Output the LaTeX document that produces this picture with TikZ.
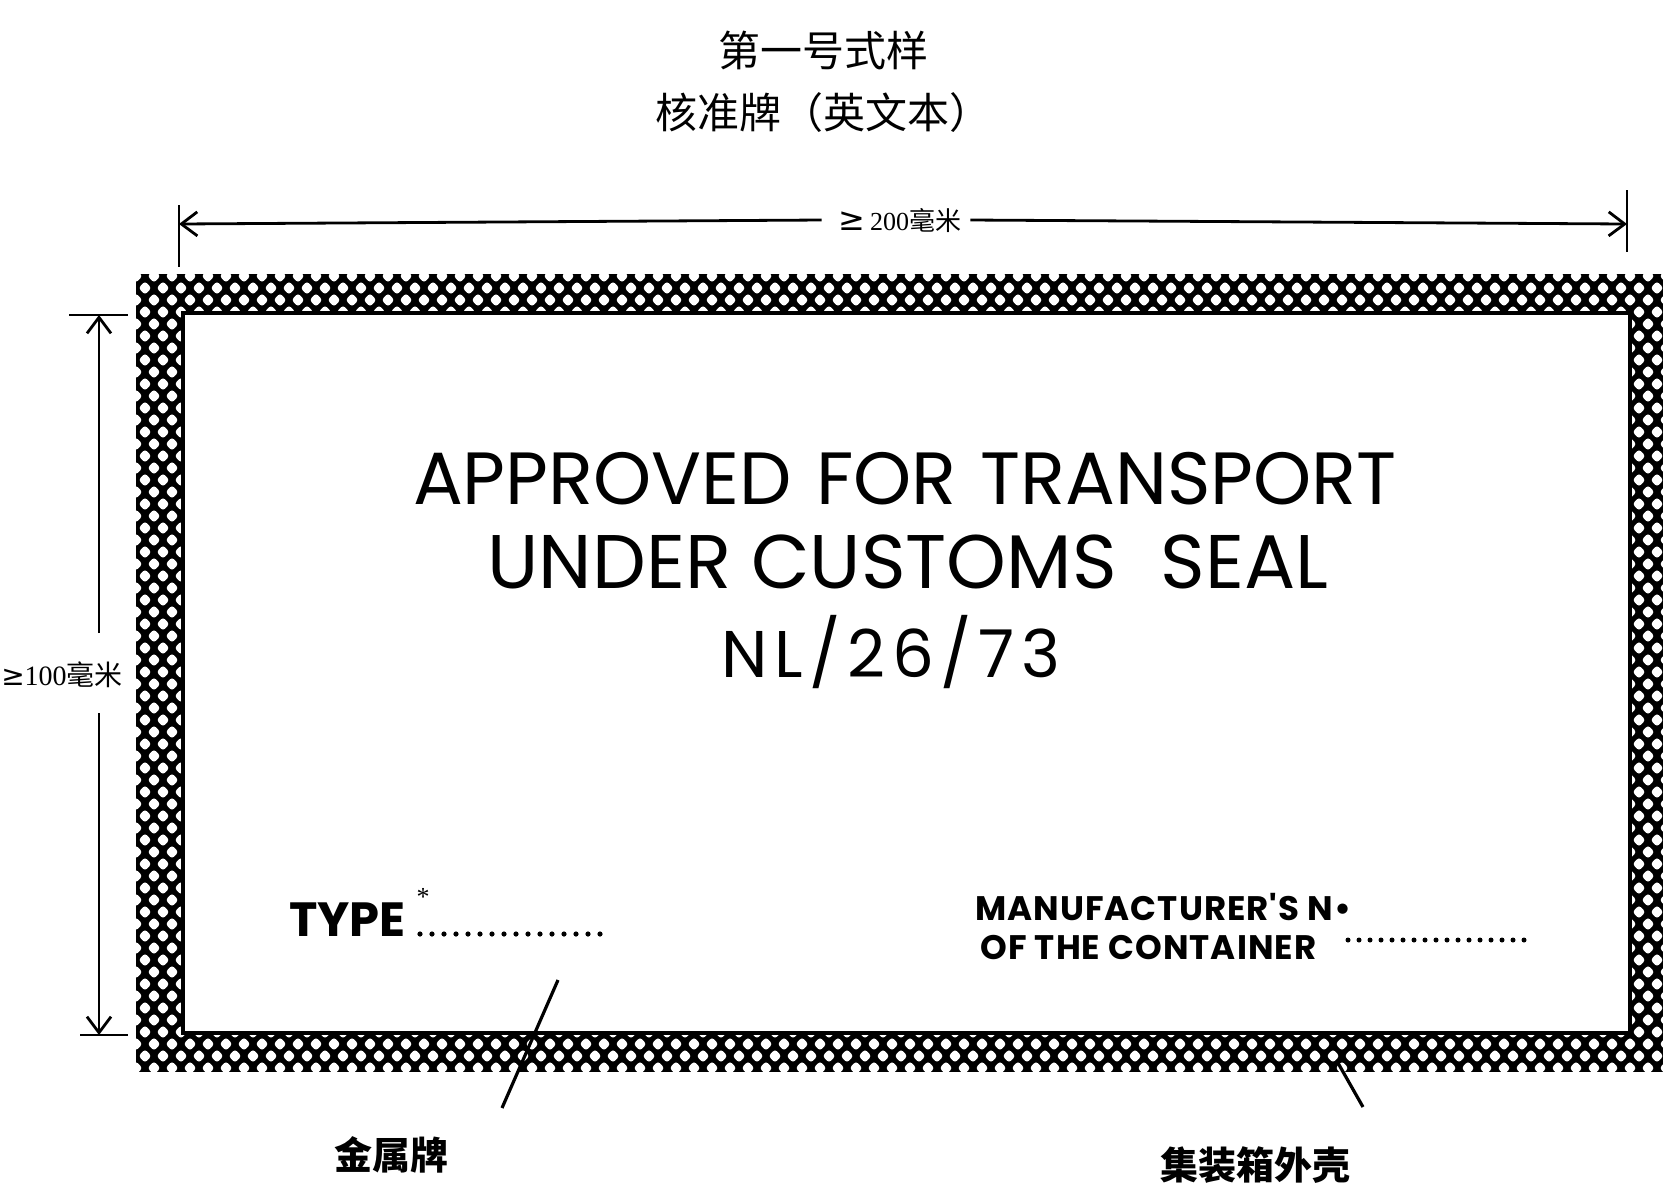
\documentclass[tikz,border=0pt]{standalone}
\usepackage{fontspec}
\usetikzlibrary{arrows.meta}
\newfontfamily\cjk{Noto Sans CJK SC}
\newfontfamily\letrero{Poppins}
\newfontfamily\cifras{Liberation Serif}
\newfontfamily\simbolo{DejaVu Sans}
\begin{document}
\begin{tikzpicture}[x=0.5pt,y=-0.5pt,line width=1.4pt,font=\cjk,
  cota/.style={-{Straight Barb[length=8pt,width=12pt]}},
  guia/.style={line width=1.6pt},
  medida/.style={font=\cifras\fontsize{13}{13}\selectfont,inner sep=0pt},
  grande/.style={font=\letrero\fontsize{37}{38}\selectfont},
  chico/.style={font=\letrero\bfseries\fontsize{17}{17}\selectfont\addfontfeature{LetterSpace=3},inner sep=0pt,anchor=west},
  nombre/.style={font=\cjk\bfseries\fontsize{19}{19}\selectfont}]
\useasboundingbox (0,0) rectangle (1672,1191);
% Titulo
\node[font=\cjk\fontsize{21}{21}\selectfont] (titulo1) at (823,50) {第一号式样};
\node[font=\cjk\fontsize{21}{21}\selectfont] (titulo2) at (823,113) {核准牌（英文本）};
% Borde rayado
\begin{scope}
\clip (136,274) rectangle (1663,1072);
\fill (136,274) rectangle (1663,1072);
\foreach \j in {0,...,67}
        \fill[white,rounded corners=1.5pt] \foreach \i in {0,...,85}
        {({136+18*\i+9*mod(\j,2)-6.5},{276+12*\j}) -- ++(6.5,-6.8) -- ++(6.5,6.8) -- ++(-6.5,6.8) -- cycle};
\end{scope}
\fill[white] (183,313) rectangle (1630,1033);
\draw[line width=2pt] (183,313) rectangle (1630,1033);
% Cota horizontal
\coordinate (hizq) at (179,224);
\coordinate (hder) at (1627,224);
\draw (179,205) -- (179,267);
\draw (1627,190) -- (1627,252);
\node[medida] (c200) at (900,220) {{\simbolo\fontsize{16}{16}\selectfont ≥}\,200{\cjk 毫米}};
\draw[cota] ([xshift=-8pt]c200.west) -- (hizq);
\draw[cota] ([xshift=4pt]c200.east) -- (hder);
% Cota vertical
\coordinate (vsup) at (99,315);
\coordinate (vinf) at (99,1035);
\coordinate (vg1) at (99,633);
\coordinate (vg2) at (99,713);
\draw (69,315) -- (128,315);
\draw (80,1035) -- (128,1035);
\draw[cota] (vg1) -- (vsup);
\draw[cota] (vg2) -- (vinf);
\node[medida,font=\cifras\fontsize{14}{14}\selectfont] (c100) at (62,675) {{\simbolo\fontsize{14}{14}\selectfont ≥}100{\cjk 毫米}};
% Leyenda
\node[grande] (linea1) at (905,479) {APPROVED\hspace{12pt}FOR\hspace{12pt}TRANSPORT};
\node[grande,font=\letrero\fontsize{38}{38}\selectfont] (linea2) at (908,562) {UNDER\hspace{10pt}CUSTOMS\hspace{22pt}SEAL};
\node[grande,font=\letrero\fontsize{33}{34}\selectfont\addfontfeature{LetterSpace=10}] (linea3) at (891,652) {NL/26/73};
% Tipo
\node[font=\letrero\bfseries\fontsize{24}{24}\selectfont,inner sep=0pt,anchor=west] (tipo) at (288,920) {TYPE};
\node[font=\cifras\fontsize{13}{13}\selectfont,inner sep=0pt] (ast) at (423,897) {*};
\foreach \k in {0,...,15}
        \fill ({420+12*\k},934) circle (2.6);
% Numero de fabricante
\node[chico] (fab1) at (974,907) {MANUFACTURER'S N\textbullet};
\node[chico] (fab2) at (979,947) {OF THE CONTAINER};
\foreach \k in {0,...,16}
        \fill ({1348+11*\k},940) circle (2.5);
% Indicaciones
\coordinate (gA) at (558,980);
\coordinate (gB) at (502,1108);
\coordinate (gC) at (1338,1063);
\coordinate (gD) at (1363,1107);
\draw[guia] (gA) -- (gB);
\draw[guia] (gC) -- (gD);
\node[nombre] (placa) at (391,1155) {金属牌};
\node[nombre] (casco) at (1255,1165) {集装箱外壳};
\end{tikzpicture}
\end{document}
